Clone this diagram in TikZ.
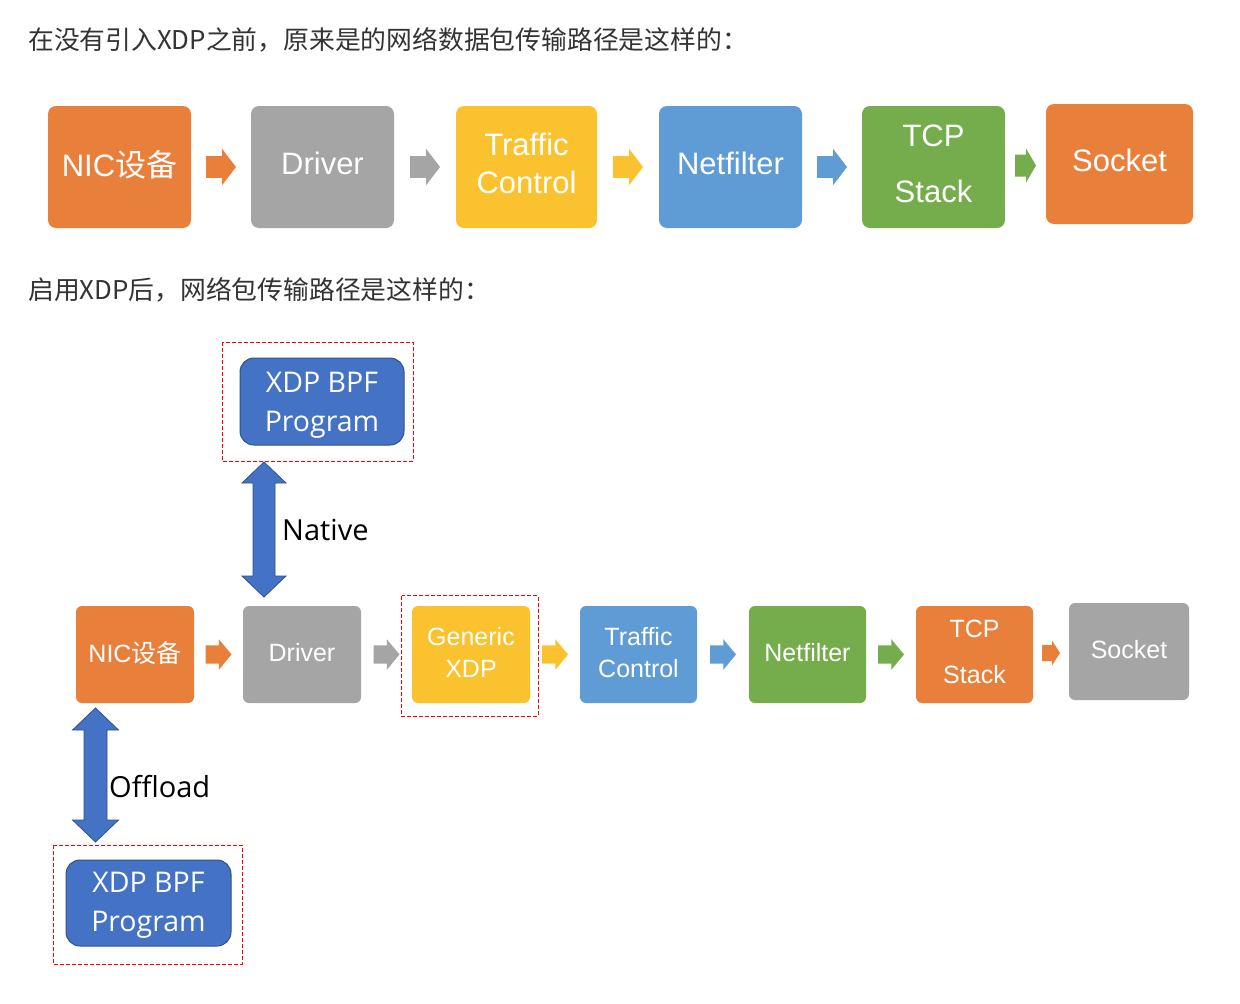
\documentclass[tikz,border=0pt]{standalone}
\usepackage{fontspec}
\setmainfont{Liberation Sans}
\newfontfamily\cjk{Noto Sans CJK SC}
\newfontfamily\seg{Open Sans}
\usetikzlibrary{calc}
\definecolor{cOr}{HTML}{E8803C}
\definecolor{cGr}{HTML}{A5A5A5}
\definecolor{cYe}{HTML}{FAC22E}
\definecolor{cBl}{HTML}{5F9BD5}
\definecolor{cGn}{HTML}{75AD4D}
\definecolor{cDb}{HTML}{4472C4}
\definecolor{cDbD}{HTML}{2F528F}
\definecolor{cTitle}{HTML}{333333}
\newcommand\upby[1]{\rule[-#1]{0pt}{#1}}
\tikzset{
  tbox/.style={rounded corners=8pt, inner sep=0pt, text=white, align=center,
    font=\fontsize{31}{38}\selectfont, minimum width=143pt, minimum height=122pt,
    execute at end node={\upby{7pt}}},
  bbox/.style={rounded corners=6pt, inner sep=0pt, text=white, align=center,
    font=\fontsize{25}{32}\selectfont, minimum width=118pt, minimum height=97pt,
    execute at end node={\upby{5pt}}},
  prog/.style={rounded corners=14pt, fill=cDb, draw=cDbD, line width=1pt,
    minimum width=164pt, minimum height=87pt, inner sep=0pt},
  progtext/.style={text=white, align=center, inner sep=0pt,
    font=\seg\fontsize{28.5}{39}\selectfont},
  reddash/.style={draw=red, line width=1pt, dash pattern=on 4pt off 2pt},
  title/.style={anchor=west, inner sep=0pt, text=cTitle, font=\cjk\fontsize{25.8}{30}\selectfont},
  side/.style={anchor=west, inner sep=0pt, text=black, font=\seg\fontsize{29}{34}\selectfont},
  pics/harrow/.style args={#1/#2/#3/#4}{code={
    \path[pic actions] ({-#1/2},{-#2}) -- ({#1/2-#4},{-#2}) -- ({#1/2-#4},{-#3}) -- ({#1/2},0)
      -- ({#1/2-#4},{#3}) -- ({#1/2-#4},{#2}) -- ({-#1/2},{#2}) -- cycle;}},
  pics/varrow/.style args={#1/#2/#3/#4}{code={
    \path[pic actions] ({-#2},{-#1/2+#4}) -- ({-#3},{-#1/2+#4}) -- (0,{-#1/2}) -- ({#3},{-#1/2+#4})
      -- ({#2},{-#1/2+#4}) -- ({#2},{#1/2-#4}) -- ({#3},{#1/2-#4}) -- (0,{#1/2})
      -- ({-#3},{#1/2-#4}) -- ({-#2},{#1/2-#4}) -- cycle;}},
}
\begin{document}
\begin{tikzpicture}[x=1pt,y=-1pt]
\useasboundingbox[fill=white] (0,0) rectangle (1240,1004);

% titles
\node[title] (title1) at (28,40) {在没有引入XDP之前，原来是的网络数据包传输路径是这样的：};
\node[title] (title2) at (28,290) {启用XDP后，网络包传输路径是这样的：};

% top row
\node[tbox, fill=cOr] (t1) at (119.5,167) {NIC{\cjk 设备}};
\node[tbox, fill=cGr] (t2) at (322.5,167) {Driver};
\node[tbox, fill=cYe, minimum width=141pt] (t3) at (526.5,167) {Traffic\\Control};
\node[tbox, fill=cBl] (t4) at (730.5,167) {Netfilter};
\node[tbox, fill=cGn] (t5) at (933.5,167) {TCP\\[18pt]Stack};
\node[tbox, fill=cOr, minimum width=147pt, minimum height=120pt] (t6) at (1119.5,164) {Socket};

\pic[fill=cOr] at ($(t1.east)!0.5!(t2.west)$) {harrow=30/10.8/18.3/14};
\pic[fill=cGr] at ($(t2.east)!0.5!(t3.west)$) {harrow=30/10.8/18.3/14};
\pic[fill=cYe] at ($(t3.east)!0.5!(t4.west)$) {harrow=30/10.8/18.3/14};
\pic[fill=cBl] at ($(t4.east)!0.5!(t5.west)$) {harrow=30/10.8/18.3/14};
\pic[fill=cGn] at ($(t5.east)!0.5!(t6.west)$) {harrow=21/11/17/10};

% bottom row
\node[bbox, fill=cOr] (b1) at (135,654.5) {NIC{\cjk 设备}};
\node[bbox, fill=cGr] (b2) at (302,654.5) {Driver};
\node[bbox, fill=cYe] (b3) at (471,654.5) {Generic\\XDP};
\node[bbox, fill=cBl, minimum width=117pt] (b4) at (638.5,654.5) {Traffic\\Control};
\node[bbox, fill=cGn, minimum width=117pt] (b5) at (807.5,654.5) {Netfilter};
\node[bbox, fill=cOr, minimum width=117pt] (b6) at (974.5,654.5) {TCP\\[14pt]Stack};
\node[bbox, fill=cGr, minimum width=120pt] (b7) at (1129,651.5) {Socket};

\pic[fill=cOr] at ($(b1.east)!0.5!(b2.west)$) {harrow=26/9.2/15.3/12.7};
\pic[fill=cGr] at ($(b2.east)!0.5!(b3.west)$) {harrow=26/9.2/15.3/12.7};
\pic[fill=cYe] at ($(b3.east)!0.5!(b4.west)$) {harrow=26/9.2/15.3/12.7};
\pic[fill=cBl] at ($(b4.east)!0.5!(b5.west)$) {harrow=26/9.2/15.3/12.7};
\pic[fill=cGn] at ($(b5.east)!0.5!(b6.west)$) {harrow=26/9.2/15.3/12.7};
\pic[fill=cOr] at ($(b6.east)!0.5!(b7.west)$) {harrow=18/8/12.5/8};

\draw[reddash] ($(b3.north west)+(-10,-10)$) rectangle ($(b3.south east)+(8,13)$);

% native XDP program
\node[prog] (p1) at (322,401.5) {};
\node[progtext] (p1t) at ($(p1.center)+(0,4)$) {XDP BPF\\Program};
\draw[reddash] (222,342) rectangle (413,461);
\coordinate (nA) at (264,529.5);
\pic[fill=cDb, draw=cDbD, line width=0.8pt] at (nA) {varrow=135/11/22/21};
\node[side] (native) at (282,530) {Native};

% offload XDP program
\node[prog, minimum width=165pt, minimum height=86pt] (p2) at (148.5,903) {};
\node[progtext] (p2t) at ($(p2.center)+(0,2)$) {XDP BPF\\Program};
\draw[reddash] (53,845) rectangle (242,964);
\coordinate (oA) at (95.5,775);
\pic[fill=cDb, draw=cDbD, line width=0.8pt] at (oA) {varrow=134/11.5/23/22};
\node[side] (offload) at (109,787) {Offload};
\end{tikzpicture}
\end{document}
